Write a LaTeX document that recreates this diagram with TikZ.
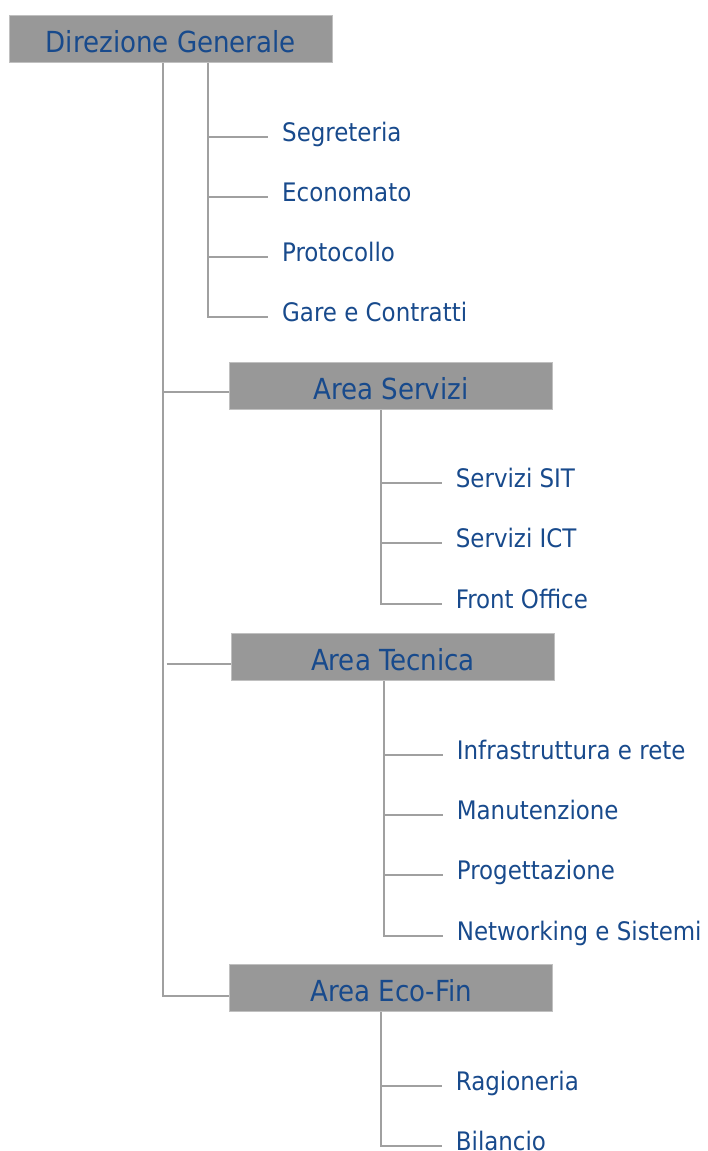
\documentclass[tikz,border=0pt]{standalone}
\usepackage{fontspec}
\setmainfont{DejaVu Sans Condensed}
\definecolor{txtblue}{RGB}{24,74,140}
\definecolor{boxgray}{RGB}{152,152,152}
\definecolor{boxedge}{RGB}{192,192,192}
\definecolor{linegray}{RGB}{160,160,160}
\begin{document}
\begin{tikzpicture}[x=1pt,y=-1pt,
  unitbox/.style={draw=boxedge, line width=0.8pt, fill=boxgray, text=txtblue,
    minimum width=323pt, minimum height=47pt, inner sep=0pt,
    text height=27pt, text depth=0pt, font=\fontsize{29}{34}\selectfont,
    anchor=north west},
  leaf/.style={text=txtblue, anchor=west, inner xsep=14pt, inner ysep=0pt,
    text height=18pt, text depth=9pt, font=\fontsize{25.5}{30}\selectfont},
  conn/.style={draw=linegray, line width=2pt}]
\useasboundingbox (0,0) rectangle (708,1151);

% unit boxes
\node[unitbox] (dg) at (9,15) {Direzione Generale};
\node[unitbox] (as) at (229,362) {Area Servizi};
\node[unitbox] (at) at (231,633.3) {Area Tecnica};
\node[unitbox] (ae) at (229.3,964.3) {Area Eco-Fin};

% leaves
\node[leaf] (seg) at (268,136.7) {Segreteria};
\node[leaf] (eco) at (268,196.7) {Economato};
\node[leaf] (pro) at (268,257) {Protocollo};
\node[leaf] (gar) at (268,317) {Gare e Contratti};

\node[leaf] (sit) at (441.7,483.3) {Servizi SIT};
\node[leaf] (ict) at (441.7,543.3) {Servizi ICT};
\node[leaf] (fro) at (441.7,604) {Front Office};

\node[leaf] (inf) at (442.7,755) {Infrastruttura e rete};
\node[leaf] (man) at (442.7,815) {Manutenzione};
\node[leaf] (prg) at (442.7,875) {Progettazione};
\node[leaf] (net) at (442.7,936) {Networking e Sistemi};

\node[leaf] (rag) at (441.7,1086) {Ragioneria};
\node[leaf] (bil) at (441.7,1146) {Bilancio};

% coordinates
\coordinate (dgm) at ([xshift=154pt]dg.south west);
\coordinate (dgs) at ([xshift=199pt]dg.south west);
\coordinate (ass) at ([xshift=152pt]as.south west);
\coordinate (ats) at ([xshift=152.5pt]at.south west);
\coordinate (aes) at ([xshift=152pt]ae.south west);
\coordinate (asin) at ([yshift=-6.5pt]as.west);
\coordinate (atin) at ([yshift=-6.5pt]at.west);
\coordinate (aein) at ([yshift=-7.5pt]ae.west);

% main trunk
\draw[conn] (dgm) |- (aein);
\draw[conn] (dgm |- asin) -- (asin);
\draw[conn, shorten <=3.7pt] (dgm |- atin) -- (atin);

% direzione staff
\draw[conn] (dgs) |- (gar.west);
\draw[conn] (dgs |- seg.west) -- (seg.west);
\draw[conn] (dgs |- eco.west) -- (eco.west);
\draw[conn] (dgs |- pro.west) -- (pro.west);

% area servizi
\draw[conn] (ass) |- (fro.west);
\draw[conn] (ass |- sit.west) -- (sit.west);
\draw[conn] (ass |- ict.west) -- (ict.west);

% area tecnica
\draw[conn] (ats) |- (net.west);
\draw[conn] (ats |- inf.west) -- (inf.west);
\draw[conn] (ats |- man.west) -- (man.west);
\draw[conn] (ats |- prg.west) -- (prg.west);

% area eco-fin
\draw[conn] (aes) |- (bil.west);
\draw[conn] (aes |- rag.west) -- (rag.west);
\end{tikzpicture}
\end{document}
